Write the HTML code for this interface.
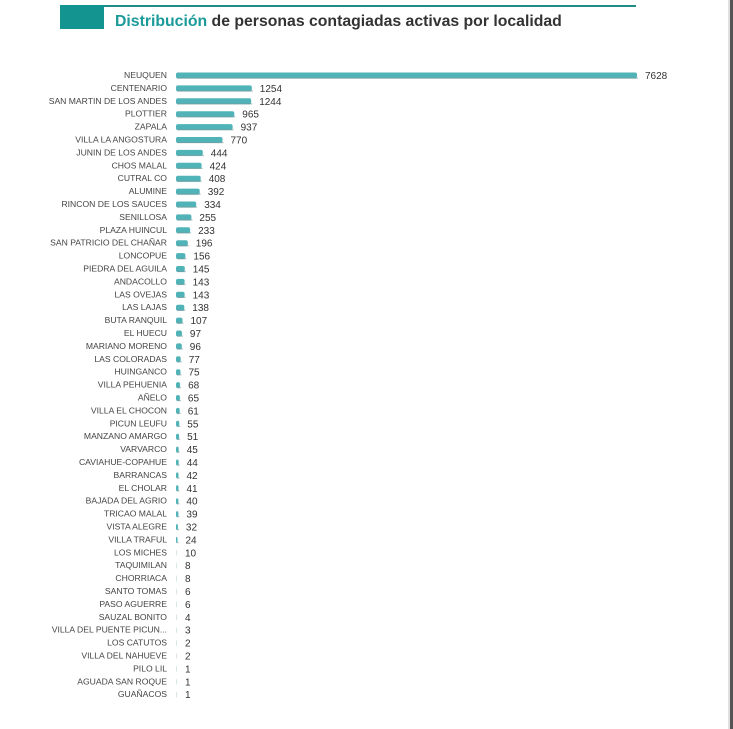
<!DOCTYPE html>
<html><head><meta charset="utf-8"><style>
html,body{margin:0;padding:0;background:#fff;}
svg{display:block;}
.l{font-family:"Liberation Sans",sans-serif;font-size:8.6px;fill:#444;text-anchor:end;}
.v{font-family:"Liberation Sans",sans-serif;font-size:10px;fill:#333;}
</style></head><body>
<svg width="733" height="729" xmlns="http://www.w3.org/2000/svg">
<rect x="0" y="0" width="733" height="729" fill="#fff"/>
<rect x="730" y="0" width="3" height="729" fill="#555"/>
<rect x="728" y="0" width="2" height="729" fill="#e0e0e0"/>
<rect x="60" y="5" width="44" height="24" fill="#149490"/>
<rect x="104" y="5" width="532" height="2" fill="#1f8a87"/>
<text x="115" y="26" font-family="Liberation Sans,sans-serif" font-size="15.8" font-weight="bold" fill="#333"><tspan fill="#1a9a99">Distribución</tspan> de personas contagiadas activas por localidad</text>
<g id="rows"></g>
</svg>
<script>
var d=[["NEUQUEN",7628],["CENTENARIO",1254],["SAN MARTIN DE LOS ANDES",1244],["PLOTTIER",965],["ZAPALA",937],["VILLA LA ANGOSTURA",770],["JUNIN DE LOS ANDES",444],["CHOS MALAL",424],["CUTRAL CO",408],["ALUMINE",392],["RINCON DE LOS SAUCES",334],["SENILLOSA",255],["PLAZA HUINCUL",233],["SAN PATRICIO DEL CHAÑAR",196],["LONCOPUE",156],["PIEDRA DEL AGUILA",145],["ANDACOLLO",143],["LAS OVEJAS",143],["LAS LAJAS",138],["BUTA RANQUIL",107],["EL HUECU",97],["MARIANO MORENO",96],["LAS COLORADAS",77],["HUINGANCO",75],["VILLA PEHUENIA",68],["AÑELO",65],["VILLA EL CHOCON",61],["PICUN LEUFU",55],["MANZANO AMARGO",51],["VARVARCO",45],["CAVIAHUE-COPAHUE",44],["BARRANCAS",42],["EL CHOLAR",41],["BAJADA DEL AGRIO",40],["TRICAO MALAL",39],["VISTA ALEGRE",32],["VILLA TRAFUL",24],["LOS MICHES",10],["TAQUIMILAN",8],["CHORRIACA",8],["SANTO TOMAS",6],["PASO AGUERRE",6],["SAUZAL BONITO",4],["VILLA DEL PUENTE PICUN...",3],["LOS CATUTOS",2],["VILLA DEL NAHUEVE",2],["PILO LIL",1],["AGUADA SAN ROQUE",1],["GUAÑACOS",1]];
var s="",k=461/7628;
d.forEach(function(r,i){var y=75+i*12.9,w=Math.max(r[1]*k,1);
s+='<text class="l" x="167" y="'+(y+3).toFixed(1)+'">'+r[0]+'</text>';
s+='<rect x="176" y="'+(y-2.5).toFixed(1)+'" width="'+w.toFixed(1)+'" height="6" rx="2" fill="'+(r[1]<12?'#d8e6e6':'#4fb3b7')+'"/>';
if(r[1]>=12)s+='<rect x="177" y="'+(y+2.5).toFixed(1)+'" width="'+w.toFixed(1)+'" height="1.2" fill="#7a9a9c" opacity="0.6"/>';
s+='<text class="v" x="'+(176+w+8).toFixed(1)+'" y="'+(y+4).toFixed(1)+'">'+r[1]+'</text>';});
document.getElementById("rows").innerHTML=s;
</script>
</body></html>
